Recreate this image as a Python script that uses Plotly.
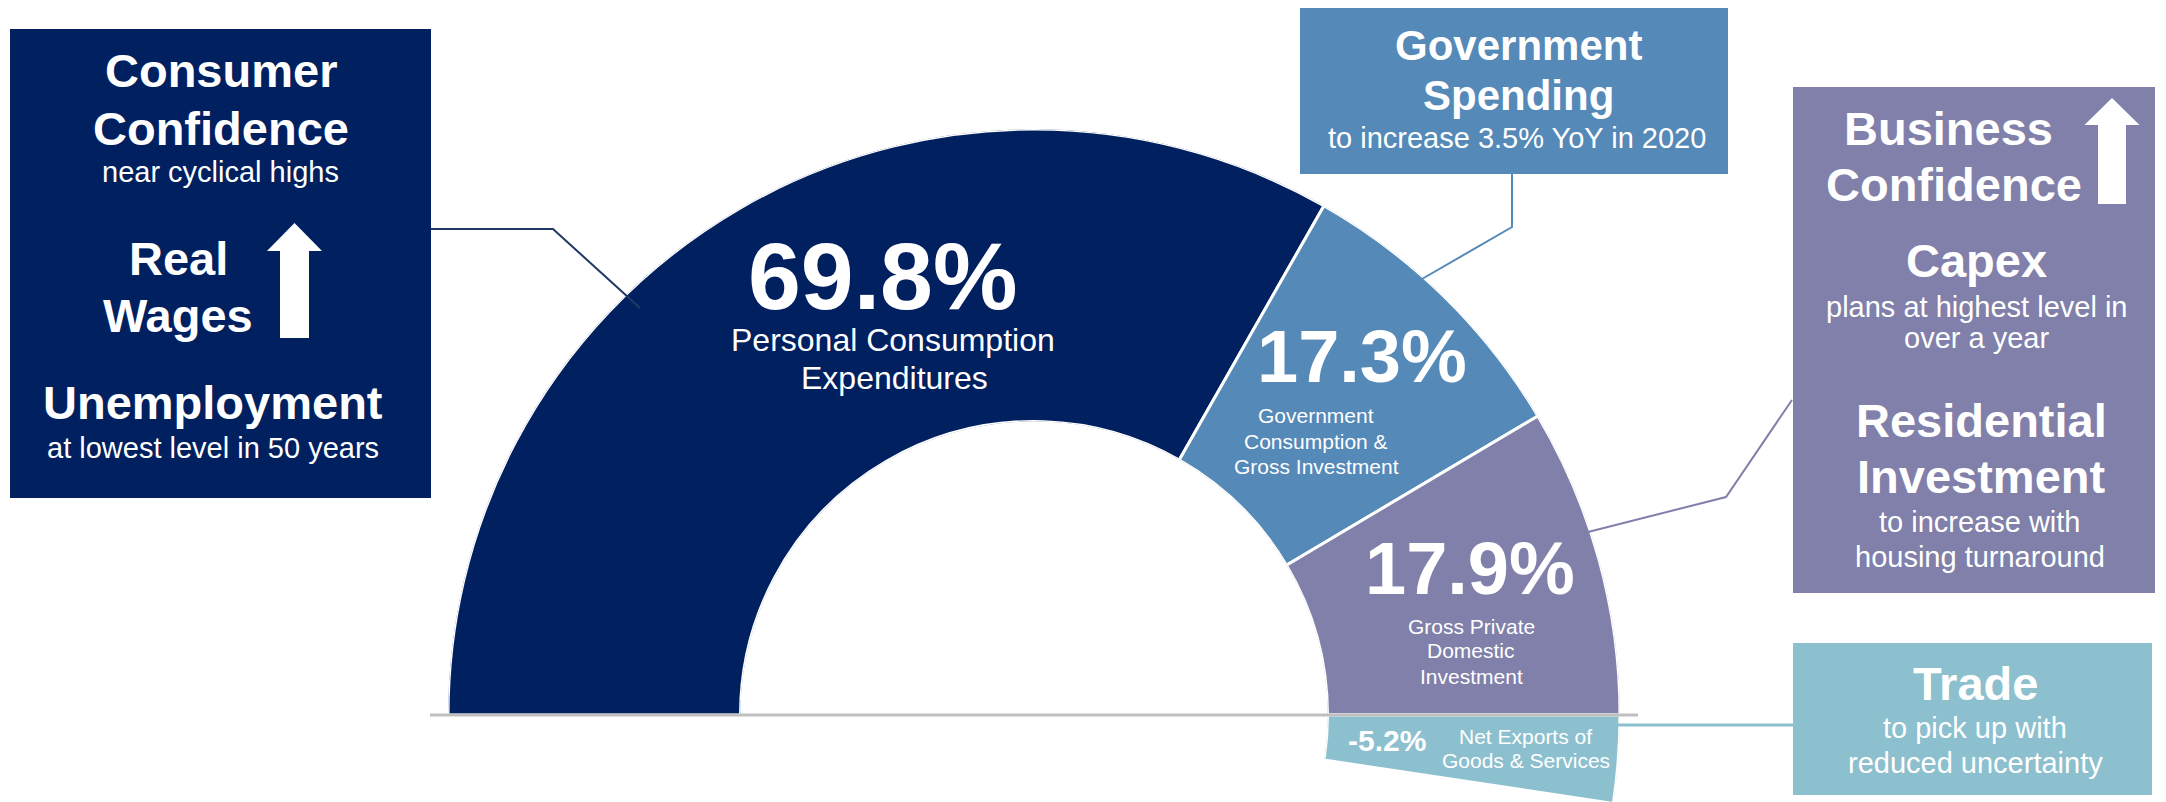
import math
import plotly.graph_objects as go

# ---------------- data ----------------
components = [
    "Personal Consumption Expenditures",
    "Government Consumption & Gross Investment",
    "Gross Private Domestic Investment",
    "Net Exports of Goods & Services",
]
shares = [69.8, 17.3, 17.9, -5.2]
share_labels = ["69.8%", "17.3%", "17.9%", "-5.2%"]
segment_colors = ["#002060", "#5589B8", "#8080AA", "#8DC0CE"]

# ---------------- layout constants (pixels) ----------------
W, H = 2166, 802
CX, CY = 1034, 715          # centre of the half donut
R_OUT = 586                 # outer radius
R_IN = 293.5                # inner radius
FONT = "Arial, Liberation Sans, sans-serif"


def px(x):
    return x / W


def py(y):
    return 1 - y / H


# angular scale: positive components fill the 180 degree half circle
pos_total = sum(v for v in shares if v > 0)
deg_per_pct = 180.0 / pos_total
mags = [abs(v) for v in shares]
starts = [sum(mags[:i]) for i in range(len(mags))]
thetas = [(s + m / 2) * deg_per_pct for s, m in zip(starts, mags)]
widths = [m * deg_per_pct for m in mags]

sector_low = math.degrees(math.asin((H - CY) / R_OUT))

fig = go.Figure()
fig.add_trace(go.Barpolar(
    r=[1] * len(shares),
    theta=thetas,
    width=widths,
    marker=dict(color=segment_colors, line=dict(color="white", width=3)),
    text=[f"{c}: {l}" for c, l in zip(components, share_labels)],
    hoverinfo="text",
    showlegend=False,
))

shapes = []


def rect(x0, y0, x1, y1, color):
    shapes.append(dict(type="rect", xref="paper", yref="paper",
                       x0=px(x0), x1=px(x1), y0=py(y1), y1=py(y0),
                       fillcolor=color, line=dict(width=0), layer="below"))


def polyline(pts, color, width):
    d = "M " + " L ".join(f"{px(x):.5f},{py(y):.5f}" for x, y in pts)
    shapes.append(dict(type="path", xref="paper", yref="paper", path=d,
                       line=dict(color=color, width=width), layer="above"))


def up_arrow(tip_x, tip_y, head_w, head_h, shaft_w, bottom_y):
    pts = [
        (tip_x, tip_y),
        (tip_x + head_w / 2, tip_y + head_h),
        (tip_x + shaft_w / 2, tip_y + head_h),
        (tip_x + shaft_w / 2, bottom_y),
        (tip_x - shaft_w / 2, bottom_y),
        (tip_x - shaft_w / 2, tip_y + head_h),
        (tip_x - head_w / 2, tip_y + head_h),
    ]
    d = "M " + " L ".join(f"{px(x):.5f},{py(y):.5f}" for x, y in pts) + " Z"
    shapes.append(dict(type="path", xref="paper", yref="paper", path=d,
                       fillcolor="white", line=dict(width=0), layer="above"))


# boxes
rect(10, 29, 431, 498, "#002060")
rect(1300, 8, 1728, 174, "#5589B8")
rect(1793, 87, 2155, 593, "#8080AA")
rect(1793, 643, 2152, 795, "#8DC0CE")

# baseline
polyline([(430, 715), (1638, 715)], "#BFBFBF", 3)

# connectors
polyline([(431, 229), (553, 229), (640, 308)], "#1F3864", 2)
polyline([(1512, 174), (1512, 227), (1422, 279)], "#5589B8", 2)
polyline([(1792, 400), (1726, 497), (1588, 532)], "#8080AA", 2)
polyline([(1618, 725), (1793, 725)], "#8DC0CE", 3)

# arrows
up_arrow(294.5, 223, 55, 28, 29, 338)
up_arrow(2112, 98, 55, 27, 28, 204)

annotations = []


def txt(s, x, y, size, bold=False):
    annotations.append(dict(
        text=f"<b>{s}</b>" if bold else s,
        x=px(x), y=py(y), xref="paper", yref="paper",
        xanchor="center", yanchor="middle", showarrow=False,
        font=dict(family=FONT, size=size, color="white"),
    ))


# left box
txt("Consumer", 221, 70, 47, True)
txt("Confidence", 221, 128, 47, True)
txt("near cyclical highs", 220, 172, 29)
txt("Real", 178, 258, 47, True)
txt("Wages", 178, 315, 47, True)
txt("Unemployment", 213, 402, 47, True)
txt("at lowest level in 50 years", 213, 448, 29)

# government box
txt("Government", 1518, 46, 42, True)
txt("Spending", 1518, 95, 42, True)
txt("to increase 3.5% YoY in 2020", 1517, 138, 29)

# business box
txt("Business", 1948, 128, 47, True)
txt("Confidence", 1954, 184, 47, True)
txt("Capex", 1977, 260, 47, True)
txt("plans at highest level in", 1977, 307, 29)
txt("over a year", 1977, 338, 29)
txt("Residential", 1981, 420, 47, True)
txt("Investment", 1981, 476, 47, True)
txt("to increase with", 1980, 522, 29)
txt("housing turnaround", 1980, 557, 29)

# trade box
txt("Trade", 1975, 683, 47, True)
txt("to pick up with", 1975, 728, 29)
txt("reduced uncertainty", 1975, 763, 29)

# donut labels
txt(share_labels[0], 882, 276, 95, True)
txt("Personal Consumption", 893, 340, 32)
txt("Expenditures", 894, 378, 32)

txt(share_labels[1], 1362, 356, 74, True)
txt("Government", 1316, 415, 21)
txt("Consumption &amp;", 1316, 441, 21)
txt("Gross Investment", 1316, 466, 21)

txt(share_labels[2], 1470, 568, 74, True)
txt("Gross Private", 1471, 626, 21)
txt("Domestic", 1471, 650, 21)
txt("Investment", 1471, 676, 21)

txt(share_labels[3], 1387, 740, 30, True)
txt("Net Exports of", 1525, 736, 21)
txt("Goods &amp; Services", 1526, 760, 21)

fig.update_layout(
    width=W, height=H, autosize=False,
    margin=dict(l=0, r=0, t=0, b=0),
    paper_bgcolor="white", plot_bgcolor="white",
    showlegend=False,
    polar=dict(
        domain=dict(x=[px(CX - R_OUT), px(CX + R_OUT)], y=[0, py(CY - R_OUT)]),
        sector=[-sector_low, 180],
        hole=R_IN / R_OUT,
        bgcolor="rgba(0,0,0,0)",
        radialaxis=dict(visible=False, range=[0, 1], showgrid=False),
        angularaxis=dict(visible=False, rotation=180, direction="clockwise",
                         thetaunit="degrees", showgrid=False),
    ),
    shapes=shapes,
    annotations=annotations,
)

fig.write_html(
    "out.html",
    config={"displayModeBar": False},
    post_script="document.body.style.margin='0px';document.body.style.overflow='hidden';",
)
